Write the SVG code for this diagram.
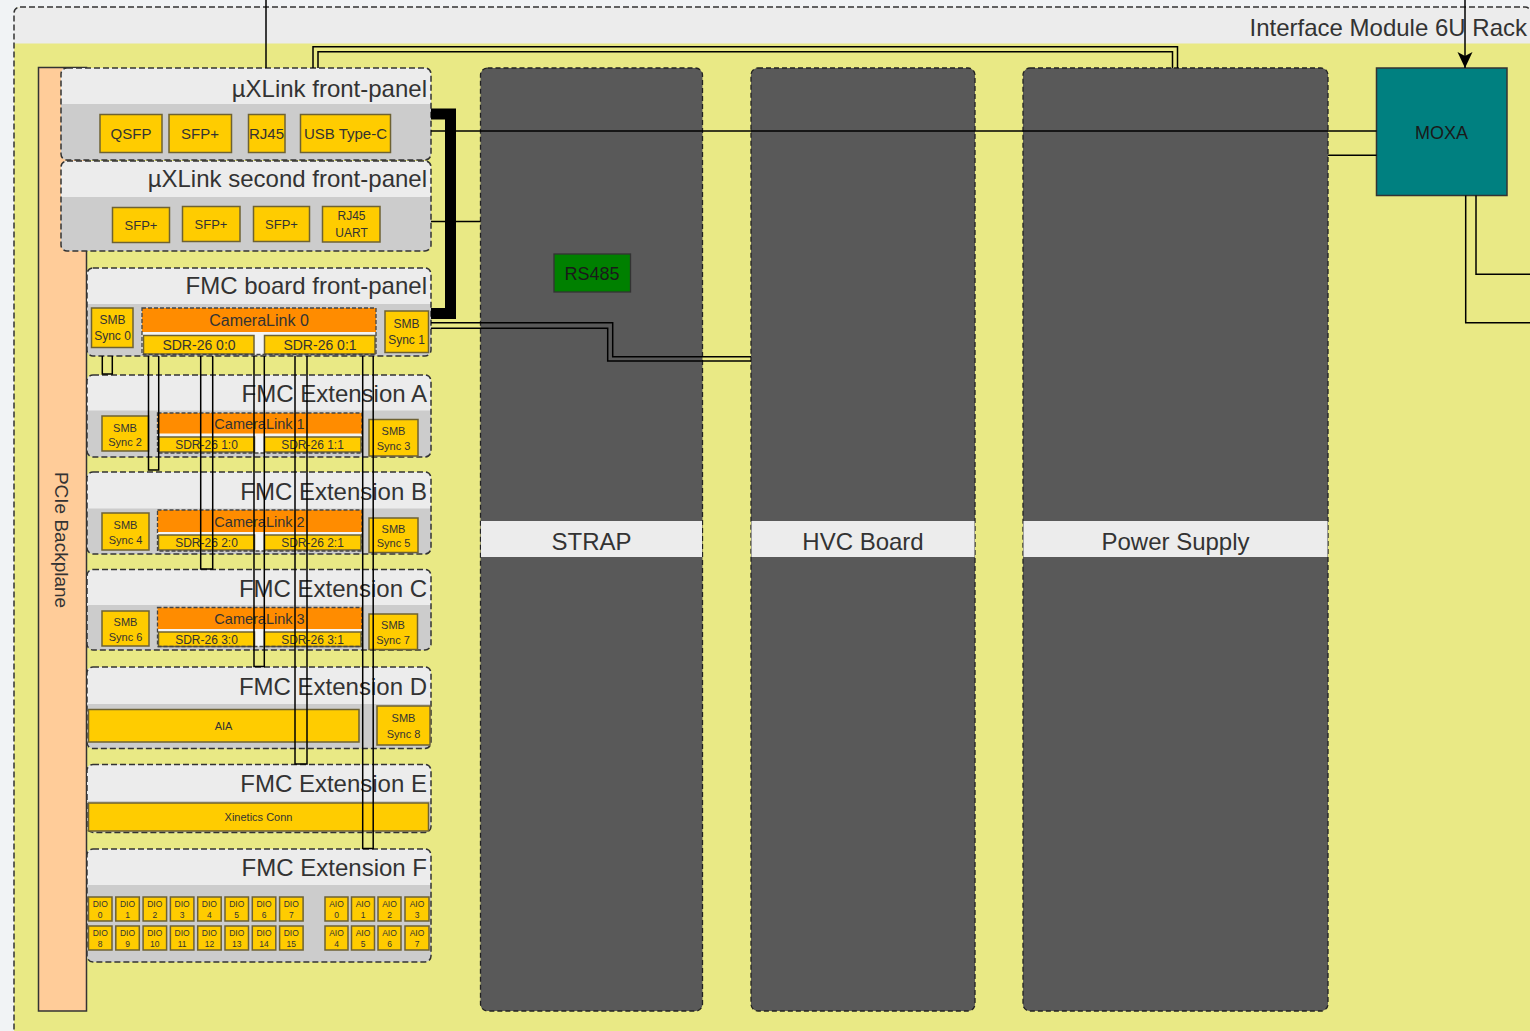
<svg xmlns="http://www.w3.org/2000/svg" width="1530" height="1031" viewBox="0 0 1530 1031">
<defs>
<style>
text{font-family:"Liberation Sans",Arial,sans-serif;fill:#333}
.ttl{font-size:24px;text-anchor:end}
.band{font-size:24px;text-anchor:middle}
.c{text-anchor:middle}
.pbody{fill:#cccccc;stroke:none}
.phdr{fill:#ececec;stroke:none}
.pborder{fill:none;stroke:#333;stroke-width:1.5;stroke-dasharray:6 3}
.item{fill:#ffcc00;stroke:#6e6233;stroke-width:1.5}
.orange{fill:#ff8c00;stroke:none}
.grp{fill:#f4f4f4;stroke:none}
.grpb{fill:none;stroke:#444;stroke-width:1.3;stroke-dasharray:4 2}
.dark{fill:#595959;stroke:#222;stroke-width:1.3;stroke-dasharray:5 3}
.e{fill:none;stroke:#000;stroke-width:1.5}
.i15{font-size:15px}
.i13{font-size:13px}
.i12{font-size:12px}
.i11{font-size:11px}
.d{font-size:8.5px}
</style>
<marker id="arr" markerWidth="16" markerHeight="16" refX="16" refY="7.5" orient="auto" markerUnits="userSpaceOnUse">
<path d="M0,0 L16,7.5 L0,15 L4,7.5 Z" fill="#000"/>
</marker>
</defs>

<rect x="0" y="0" width="1530" height="1031" fill="#f1f3f5"/>

<g id="rack">
<rect x="14" y="7" width="1517" height="1040" rx="6" fill="#e9e985"/>
<path d="M14,43.5 V13 Q14,7 20,7 H1525 Q1531,7 1531,13 V43.5 Z" fill="#ececec"/>
<rect x="14" y="7" width="1517" height="1040" rx="6" class="pborder"/>
<text x="1527" y="35.5" class="ttl">Interface Module 6U Rack</text>
</g>

<g id="pcie-backplane">
<rect x="38.5" y="67.5" width="48" height="943.5" fill="#ffcc99" stroke="#333" stroke-width="1.5"/>
<text transform="translate(55,540) rotate(90)" style="font-size:19px;text-anchor:middle">PCIe Backplane</text>
</g>

<g id="uxlink-front-panel">
<rect x="61" y="68" width="370" height="92" rx="6" class="pbody"/>
<path d="M61,104 V74 Q61,68 67,68 H425 Q431,68 431,74 V104 Z" class="phdr"/>
<rect x="61" y="68" width="370" height="92" rx="6" class="pborder"/>
<text x="427" y="96.5" class="ttl">µXLink front-panel</text>
<rect x="100" y="114.5" width="62" height="38" class="item"/>
<text x="131" y="138.5" class="c i15">QSFP</text>
<rect x="169" y="114.5" width="62.5" height="38" class="item"/>
<text x="200" y="138.5" class="c i15">SFP+</text>
<rect x="248.5" y="114.5" width="36.5" height="38" class="item"/>
<text x="266.5" y="138.5" class="c i15">RJ45</text>
<rect x="300.5" y="114.5" width="90" height="38" class="item"/>
<text x="345.5" y="138.5" class="c i15">USB Type-C</text>
</g>

<g id="uxlink-second-front-panel">
<rect x="61" y="161" width="370" height="90" rx="6" class="pbody"/>
<path d="M61,197 V167 Q61,161 67,161 H425 Q431,161 431,167 V197 Z" class="phdr"/>
<rect x="61" y="161" width="370" height="90" rx="6" class="pborder"/>
<text x="427" y="187" class="ttl">µXLink second front-panel</text>
<rect x="112.5" y="207.5" width="57" height="35" class="item"/>
<text x="141" y="229.5" class="c i13">SFP+</text>
<rect x="182.5" y="206.5" width="57.5" height="35" class="item"/>
<text x="211" y="228.5" class="c i13">SFP+</text>
<rect x="253.5" y="206.5" width="56" height="35" class="item"/>
<text x="281.5" y="228.5" class="c i13">SFP+</text>
<rect x="322.5" y="206.5" width="57.5" height="35.5" class="item"/>
<text x="351.5" y="219.5" class="c i12">RJ45</text>
<text x="351.5" y="236.5" class="c i12">UART</text>
</g>

<g id="fmc-board-front-panel">
<rect x="87" y="268" width="344" height="88" rx="6" class="pbody"/>
<path d="M87,304 V274 Q87,268 93,268 H425 Q431,268 431,274 V304 Z" class="phdr"/>
<rect x="87" y="268" width="344" height="88" rx="6" class="pborder"/>
<text x="427" y="293.5" class="ttl">FMC board front-panel</text>
<rect x="91.5" y="308" width="41.5" height="39.5" class="item"/>
<text x="112.5" y="323.5" class="c i12">SMB</text>
<text x="112.5" y="340" class="c i12">Sync 0</text>
<rect x="142" y="308" width="234" height="46.5" class="grp"/>
<rect x="142" y="308" width="234" height="24" class="orange"/>
<text x="259" y="326" class="c" style="font-size:16px">CameraLink 0</text>
<rect x="143.5" y="335.5" width="110.5" height="18.5" class="item"/>
<text x="199" y="349.5" class="c" style="font-size:14px">SDR-26 0:0</text>
<rect x="264.5" y="335.5" width="110.5" height="18.5" class="item"/>
<text x="320" y="349.5" class="c" style="font-size:14px">SDR-26 0:1</text>
<rect x="142" y="308" width="234" height="46.5" class="grpb"/>
<rect x="385" y="311" width="43.5" height="41.5" class="item"/>
<text x="406.5" y="328" class="c i12">SMB</text>
<text x="406.5" y="344" class="c i12">Sync 1</text>
</g>

<g id="fmc-extension-a">
<rect x="87" y="375" width="344" height="82" rx="6" class="pbody"/>
<path d="M87,410.5 V381 Q87,375 93,375 H425 Q431,375 431,381 V410.5 Z" class="phdr"/>
<rect x="87" y="375" width="344" height="82" rx="6" class="pborder"/>
<text x="427" y="401.5" class="ttl">FMC Extension A</text>
<rect x="102" y="416" width="46.5" height="35" class="item"/>
<text x="125" y="431.5" class="c i11">SMB</text>
<text x="125" y="446" class="c i11">Sync 2</text>
<rect x="157.5" y="413" width="204.5" height="40" class="grp"/>
<rect x="157.5" y="413" width="204.5" height="20.5" class="orange"/>
<text x="259.5" y="428.5" class="c" style="font-size:14.5px">CameraLink 1</text>
<rect x="158.5" y="437" width="96" height="15" class="item"/>
<text x="206.5" y="449" class="c i12">SDR-26 1:0</text>
<rect x="264.5" y="437" width="96.5" height="15" class="item"/>
<text x="312.5" y="449" class="c i12">SDR-26 1:1</text>
<rect x="157.5" y="413" width="204.5" height="40" class="grpb"/>
<rect x="369" y="419.5" width="49" height="36.5" class="item"/>
<text x="393.5" y="435" class="c i11">SMB</text>
<text x="393.5" y="450" class="c i11">Sync 3</text>
</g>

<g id="fmc-extension-b">
<rect x="87" y="472" width="344" height="82" rx="6" class="pbody"/>
<path d="M87,508.5 V478 Q87,472 93,472 H425 Q431,472 431,478 V508.5 Z" class="phdr"/>
<rect x="87" y="472" width="344" height="82" rx="6" class="pborder"/>
<text x="427" y="499.5" class="ttl">FMC Extension B</text>
<rect x="102" y="513" width="47" height="37" class="item"/>
<text x="125.5" y="528.5" class="c i11">SMB</text>
<text x="125.5" y="543.5" class="c i11">Sync 4</text>
<rect x="157.5" y="510" width="204.5" height="41" class="grp"/>
<rect x="157.5" y="510" width="204.5" height="22" class="orange"/>
<text x="259.5" y="526.5" class="c" style="font-size:14.5px">CameraLink 2</text>
<rect x="158.5" y="535" width="96" height="15" class="item"/>
<text x="206.5" y="547" class="c i12">SDR-26 2:0</text>
<rect x="264.5" y="535" width="96.5" height="15" class="item"/>
<text x="312.5" y="547" class="c i12">SDR-26 2:1</text>
<rect x="157.5" y="510" width="204.5" height="41" class="grpb"/>
<rect x="369" y="518" width="49" height="34.5" class="item"/>
<text x="393.5" y="532.5" class="c i11">SMB</text>
<text x="393.5" y="547" class="c i11">Sync 5</text>
</g>

<g id="fmc-extension-c">
<rect x="87" y="569.5" width="344" height="80.5" rx="6" class="pbody"/>
<path d="M87,605 V575.5 Q87,569.5 93,569.5 H425 Q431,569.5 431,575.5 V605 Z" class="phdr"/>
<rect x="87" y="569.5" width="344" height="80.5" rx="6" class="pborder"/>
<text x="427" y="596.5" class="ttl">FMC Extension C</text>
<rect x="102" y="611" width="47" height="35" class="item"/>
<text x="125.5" y="626" class="c i11">SMB</text>
<text x="125.5" y="640.5" class="c i11">Sync 6</text>
<rect x="157.5" y="607.5" width="204.5" height="39" class="grp"/>
<rect x="157.5" y="607.5" width="204.5" height="21.5" class="orange"/>
<text x="259.5" y="623.5" class="c" style="font-size:14.5px">CameraLink 3</text>
<rect x="158.5" y="632" width="96" height="14.5" class="item"/>
<text x="206.5" y="643.5" class="c i12">SDR-26 3:0</text>
<rect x="264.5" y="632" width="96.5" height="14.5" class="item"/>
<text x="312.5" y="643.5" class="c i12">SDR-26 3:1</text>
<rect x="157.5" y="607.5" width="204.5" height="39" class="grpb"/>
<rect x="369" y="614" width="48.5" height="35.5" class="item"/>
<text x="393" y="629" class="c i11">SMB</text>
<text x="393" y="644" class="c i11">Sync 7</text>
</g>

<g id="fmc-extension-d">
<rect x="87" y="667" width="344" height="81.5" rx="6" class="pbody"/>
<path d="M87,704 V673 Q87,667 93,667 H425 Q431,667 431,673 V704 Z" class="phdr"/>
<rect x="87" y="667" width="344" height="81.5" rx="6" class="pborder"/>
<text x="427" y="694.5" class="ttl">FMC Extension D</text>
<rect x="88.5" y="709.5" width="270.5" height="32.5" class="item"/>
<text x="223.5" y="730" class="c i11">AIA</text>
<rect x="377" y="706" width="53" height="39" class="item"/>
<text x="403.5" y="722" class="c i11">SMB</text>
<text x="403.5" y="737.5" class="c i11">Sync 8</text>
</g>

<g id="fmc-extension-e">
<rect x="87" y="764.5" width="344" height="68" rx="6" class="pbody"/>
<path d="M87,801 V770.5 Q87,764.5 93,764.5 H425 Q431,764.5 431,770.5 V801 Z" class="phdr"/>
<rect x="87" y="764.5" width="344" height="68" rx="6" class="pborder"/>
<text x="427" y="791.5" class="ttl">FMC Extension E</text>
<rect x="88.5" y="803" width="340" height="28" class="item"/>
<text x="258.5" y="821" class="c i11">Xinetics Conn</text>
</g>

<g id="fmc-extension-f">
<rect x="87" y="849" width="344" height="113" rx="6" class="pbody"/>
<path d="M87,885 V855 Q87,849 93,849 H425 Q431,849 431,855 V885 Z" class="phdr"/>
<rect x="87" y="849" width="344" height="113" rx="6" class="pborder"/>
<text x="427" y="875.5" class="ttl">FMC Extension F</text>
<g>
<rect x="88.5" y="897" width="23.5" height="24" class="item"/><text x="100.2" y="906.5" class="c d">DIO</text><text x="100.2" y="918" class="c d">0</text>
<rect x="115.8" y="897" width="23.5" height="24" class="item"/><text x="127.5" y="906.5" class="c d">DIO</text><text x="127.5" y="918" class="c d">1</text>
<rect x="143.1" y="897" width="23.5" height="24" class="item"/><text x="154.8" y="906.5" class="c d">DIO</text><text x="154.8" y="918" class="c d">2</text>
<rect x="170.4" y="897" width="23.5" height="24" class="item"/><text x="182.1" y="906.5" class="c d">DIO</text><text x="182.1" y="918" class="c d">3</text>
<rect x="197.7" y="897" width="23.5" height="24" class="item"/><text x="209.4" y="906.5" class="c d">DIO</text><text x="209.4" y="918" class="c d">4</text>
<rect x="225" y="897" width="23.5" height="24" class="item"/><text x="236.7" y="906.5" class="c d">DIO</text><text x="236.7" y="918" class="c d">5</text>
<rect x="252.3" y="897" width="23.5" height="24" class="item"/><text x="264" y="906.5" class="c d">DIO</text><text x="264" y="918" class="c d">6</text>
<rect x="279.6" y="897" width="23.5" height="24" class="item"/><text x="291.3" y="906.5" class="c d">DIO</text><text x="291.3" y="918" class="c d">7</text>
<rect x="88.5" y="926" width="23.5" height="24" class="item"/><text x="100.2" y="935.5" class="c d">DIO</text><text x="100.2" y="947" class="c d">8</text>
<rect x="115.8" y="926" width="23.5" height="24" class="item"/><text x="127.5" y="935.5" class="c d">DIO</text><text x="127.5" y="947" class="c d">9</text>
<rect x="143.1" y="926" width="23.5" height="24" class="item"/><text x="154.8" y="935.5" class="c d">DIO</text><text x="154.8" y="947" class="c d">10</text>
<rect x="170.4" y="926" width="23.5" height="24" class="item"/><text x="182.1" y="935.5" class="c d">DIO</text><text x="182.1" y="947" class="c d">11</text>
<rect x="197.7" y="926" width="23.5" height="24" class="item"/><text x="209.4" y="935.5" class="c d">DIO</text><text x="209.4" y="947" class="c d">12</text>
<rect x="225" y="926" width="23.5" height="24" class="item"/><text x="236.7" y="935.5" class="c d">DIO</text><text x="236.7" y="947" class="c d">13</text>
<rect x="252.3" y="926" width="23.5" height="24" class="item"/><text x="264" y="935.5" class="c d">DIO</text><text x="264" y="947" class="c d">14</text>
<rect x="279.6" y="926" width="23.5" height="24" class="item"/><text x="291.3" y="935.5" class="c d">DIO</text><text x="291.3" y="947" class="c d">15</text>
<rect x="325" y="897" width="23" height="24" class="item"/><text x="336.5" y="906.5" class="c d">AIO</text><text x="336.5" y="918" class="c d">0</text>
<rect x="351.5" y="897" width="23" height="24" class="item"/><text x="363" y="906.5" class="c d">AIO</text><text x="363" y="918" class="c d">1</text>
<rect x="378" y="897" width="23" height="24" class="item"/><text x="389.5" y="906.5" class="c d">AIO</text><text x="389.5" y="918" class="c d">2</text>
<rect x="405" y="897" width="24" height="24" class="item"/><text x="417" y="906.5" class="c d">AIO</text><text x="417" y="918" class="c d">3</text>
<rect x="325" y="926" width="23" height="24" class="item"/><text x="336.5" y="935.5" class="c d">AIO</text><text x="336.5" y="947" class="c d">4</text>
<rect x="351.5" y="926" width="23" height="24" class="item"/><text x="363" y="935.5" class="c d">AIO</text><text x="363" y="947" class="c d">5</text>
<rect x="378" y="926" width="23" height="24" class="item"/><text x="389.5" y="935.5" class="c d">AIO</text><text x="389.5" y="947" class="c d">6</text>
<rect x="405" y="926" width="24" height="24" class="item"/><text x="417" y="935.5" class="c d">AIO</text><text x="417" y="947" class="c d">7</text>
</g>
</g>

<g id="strap">
<rect x="480.5" y="68" width="222" height="943" rx="7" class="dark"/>
<rect x="481" y="521" width="221" height="36" fill="#ececec"/>
<text x="591.5" y="550" class="band">STRAP</text>
</g>

<g id="rs485">
<rect x="554" y="254" width="76.5" height="38" fill="#008000" stroke="#333" stroke-width="1.3"/>
<text x="592" y="280" class="c" style="font-size:18px;fill:#1a1a1a">RS485</text>
</g>

<g id="hvc-board">
<rect x="751" y="68" width="224" height="943" rx="7" class="dark"/>
<rect x="751.5" y="521" width="223" height="36" fill="#ececec"/>
<text x="863" y="550" class="band">HVC Board</text>
</g>

<g id="power-supply">
<rect x="1023" y="68" width="305" height="943" rx="7" class="dark"/>
<rect x="1023.5" y="521" width="304" height="36" fill="#ececec"/>
<text x="1175.5" y="550" class="band">Power Supply</text>
</g>

<g id="moxa">
<rect x="1376.5" y="68" width="130.5" height="127.5" fill="#008080" stroke="#333" stroke-width="1.5"/>
<text x="1441.5" y="139" class="c" style="font-size:18px;fill:#1a1a1a">MOXA</text>
</g>

<g id="connectors">
<line x1="266" y1="0" x2="266" y2="68" class="e"/>
<line x1="1465" y1="0" x2="1465" y2="68" class="e" marker-end="url(#arr)"/>
<path d="M313,68 V46.7 H1177.5 V68" class="e"/>
<path d="M318,68 V51.7 H1172.5 V68" class="e"/>
<path d="M431,114 H450.5 V313.5 H431" fill="none" stroke="#000" stroke-width="11"/>
<line x1="431" y1="131" x2="1376.5" y2="131" class="e"/>
<line x1="431" y1="221.5" x2="480.5" y2="221.5" class="e"/>
<line x1="1328" y1="155.3" x2="1376.5" y2="155.3" class="e"/>
<path d="M431,322.7 H612.7 V356.7 H751" class="e"/>
<path d="M431,328.3 H607.7 V361 H751" class="e"/>
<path d="M1476,195.5 V274.3 H1530" class="e"/>
<path d="M1465.7,195.5 V322.7 H1530" class="e"/>
<path d="M102.3,356 V374 H112.3 V356" class="e"/>
<path d="M148.5,356 V470 H158.7 V356" class="e"/>
<path d="M200.7,356 V569 H212.7 V356" class="e"/>
<path d="M254,356 V666.5 H264.3 V356" class="e"/>
<path d="M295,356 V764 H307 V356" class="e"/>
<path d="M362.7,356 V848.5 H373.2 V356" class="e"/>
</g>
</svg>
